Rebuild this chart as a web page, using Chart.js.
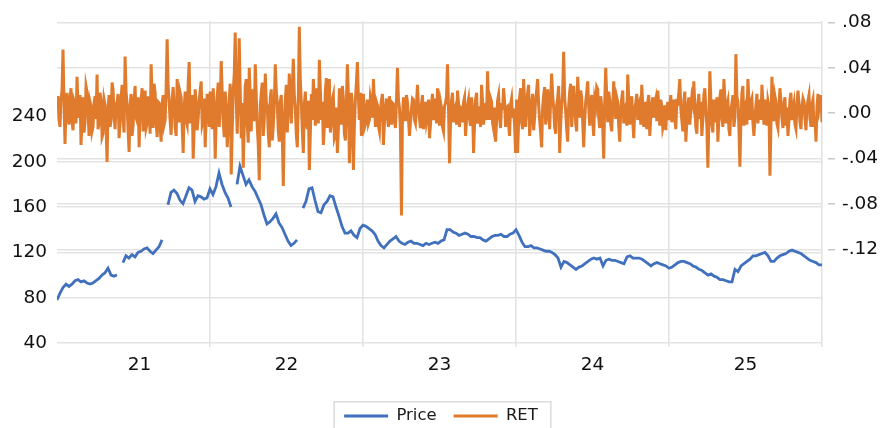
<!DOCTYPE html>
<html>
<head>
<meta charset="utf-8">
<title>Price and RET</title>
<script src="https://cdn.jsdelivr.net/npm/chart.js@4/dist/chart.umd.min.js"></script>
<style>
  html, body { margin: 0; padding: 0; background: #ffffff; }
  #wrap { width: 882px; height: 428px; position: relative; overflow: hidden; }
</style>
</head>
<body>
<div id="wrap"><canvas id="c" width="882" height="428"></canvas></div>
<script>
// Time span covered by both series (evenly spaced observations)
const startYear = 2021;
const endYear = 2026;

// Year labels on the bottom axis
const yearLabels = ['21', '22', '23', '24', '25'];

// Tick labels
const priceTicks = [40, 80, 120, 160, 200, 240];
const retTicks = [-0.12, -0.08, -0.04, 0.00, 0.04, 0.08];

// Price level (left axis); null = missing observation
const priceValues = [
  78, 84, 89, 92, 90, 92, 95, 96, 94, 95,
  93, 92, 93, 95, 97, 100, 102, 106, 100, 99,
  100, null, 111, 117, 115, 118, 116, 120, 121, 123,
  124, 121, 119, 122, 125, 131, null, 162, 173, 175,
  172, 166, 163, 170, 177, 175, 165, 170, 169, 167,
  168, 176, 171, 178, 190, 180, 173, 168, 160, null,
  180, 196, 188, 180, 184, 178, 174, 168, 162, 153,
  145, 147, 150, 154, 146, 142, 136, 130, 126, 128,
  131, null, 159, 165, 176, 177, 166, 156, 155, 162,
  165, 170, 169, 160, 152, 143, 137, 137, 139, 135,
  133, 141, 144, 143, 141, 139, 136, 130, 126, 124,
  127, 130, 132, 134, 130, 128, 127, 129, 130, 128,
  128, 127, 126, 128, 127, 128, 129, 128, 130, 131,
  140, 140, 138, 137, 135, 136, 137, 136, 134, 134,
  133, 133, 131, 130, 132, 134, 135, 135, 136, 134,
  134, 136, 137, 140, 135, 129, 125, 125, 126, 124,
  124, 123, 122, 121, 121, 120, 118, 115, 107, 112,
  111, 109, 107, 105, 107, 108, 110, 112, 114, 115,
  114, 115, 108, 113, 114, 113, 113, 112, 111, 110,
  116, 117, 115, 115, 115, 114, 112, 110, 108, 110,
  111, 110, 109, 108, 106, 107, 109, 111, 112, 112,
  111, 110, 108, 107, 105, 104, 102, 100, 101, 99,
  98, 96, 96, 95, 94, 94, 105, 103, 108, 110,
  112, 114, 117, 117, 118, 119, 120, 117, 112, 112,
  115, 117, 118, 119, 121, 122, 121, 120, 119, 117,
  115, 113, 112, 111, 109, 109
];

// Returns (right axis)
const retValues = [
  // 2021
  0.004, 0.015, -0.006, -0.012, 0.012, 0.020, 0.056, 0.010, -0.027, 0.006,
  0.018, -0.004, -0.010, 0.013, 0.022, -0.007, -0.015, 0.011, 0.008, -0.009,
  0.032, 0.005, -0.004, 0.016, -0.028, -0.006, 0.014, -0.017, -0.008, 0.024,
  0.019, 0.003, -0.020, 0.010, 0.006, -0.016, -0.012, 0.009, 0.015, -0.005,
  0.034, -0.014, -0.009, 0.018, 0.011, -0.021, -0.018, 0.012, 0.007, -0.010,
  -0.043, 0.004, 0.016, -0.012, -0.006, 0.027, 0.021, -0.003, -0.014, 0.008,
  0.010, 0.017, -0.022, -0.008, 0.013, 0.025, -0.005, -0.017, 0.050, 0.019,
  0.008, -0.015, -0.034, 0.006, 0.017, -0.020, -0.011, 0.012, 0.024, -0.004,
  -0.007, 0.014, -0.030, 0.003, 0.012, 0.022, -0.016, 0.007, 0.020, -0.013,
  -0.009, 0.015, 0.005, -0.018, 0.043, 0.012, -0.013, 0.026, 0.018, -0.008,
  -0.021, 0.010, 0.009, -0.014, -0.025, 0.008, 0.016, -0.010, -0.006, 0.022,
  0.065, 0.024, 0.010, -0.007, -0.019, 0.012, 0.023, 0.006, -0.012, -0.020,
  0.030, 0.011, -0.008, 0.018, 0.014, -0.011, -0.035, 0.004, 0.019, -0.006,
  -0.010, 0.026, 0.045, -0.009, 0.004, 0.016, -0.040, -0.012, 0.021, 0.008,
  -0.015, -0.004, 0.011, 0.020, 0.028, -0.010, -0.006, 0.013, -0.030, -0.002,
  0.017, 0.006, -0.012, 0.019,
  // 2022
  0.008, -0.014, 0.022, 0.005, -0.040, -0.006, 0.015, 0.027, -0.012, 0.009,
  0.046, 0.017, -0.008, -0.021, 0.019, 0.004, -0.030, -0.011, 0.012, 0.026,
  -0.054, -0.015, 0.020, 0.034, 0.071, 0.012, -0.018, 0.023, 0.066, 0.018,
  -0.022, 0.009, -0.048, -0.010, 0.024, 0.030, -0.010, -0.026, 0.040, 0.013,
  -0.016, 0.021, 0.011, -0.007, 0.043, 0.015, -0.012, -0.028, -0.059, 0.006,
  0.018, 0.027, -0.020, -0.005, 0.035, 0.010, 0.006, -0.018, -0.030, 0.014,
  0.021, -0.024, -0.011, 0.008, 0.043, 0.020, 0.009, -0.016, -0.025, 0.010,
  0.016, -0.020, -0.064, -0.009, 0.012, 0.025, -0.017, 0.006, 0.035, 0.014,
  -0.009, 0.022, 0.048, 0.016, 0.004, -0.019, -0.030, 0.012, 0.076, 0.028,
  0.010, -0.016, -0.035, 0.007, 0.019, -0.008, -0.014, 0.011, -0.050, -0.018,
  0.017, -0.006, 0.030, 0.013, -0.011, 0.022, 0.014, -0.009, 0.047, 0.021,
  -0.006, 0.010, -0.028, -0.012, 0.020, 0.031, -0.013, 0.008, 0.030, -0.017,
  -0.008, 0.012, 0.016, -0.022, -0.019, 0.005, -0.035, -0.014, 0.022, 0.011,
  -0.010, 0.024, 0.013, -0.018, -0.024, 0.009, 0.043, 0.016, -0.044, -0.020,
  0.018, 0.006, -0.050, -0.011, 0.012, 0.027, 0.045, 0.014, -0.006, 0.018,
  -0.020, -0.007, 0.017, -0.013,
  // 2023
  -0.010, 0.006, 0.012, -0.009, -0.006, 0.014, 0.009, -0.004, 0.030, 0.008,
  -0.012, 0.010, 0.007, -0.011, -0.016, 0.004, 0.011, 0.017, -0.028, -0.008,
  0.006, 0.013, -0.004, -0.012, 0.015, 0.003, -0.010, 0.009, 0.008, -0.007,
  -0.013, 0.011, 0.040, 0.012, 0.005, -0.015, -0.090, -0.004, 0.014, 0.006,
  -0.007, 0.016, 0.010, -0.005, -0.020, -0.008, 0.004, 0.013, 0.012, -0.006,
  -0.009, 0.008, 0.025, 0.006, -0.005, -0.013, 0.008, 0.016, -0.014, 0.003,
  0.010, -0.008, -0.003, 0.012, -0.022, -0.010, 0.009, 0.017, -0.006, 0.004,
  0.013, -0.009, 0.022, 0.007, -0.011, 0.010, 0.005, -0.012, -0.016, 0.006,
  0.009, 0.015, 0.043, 0.004, -0.044, -0.009, 0.011, 0.018, -0.008, 0.003,
  0.006, -0.010, 0.020, 0.009, -0.012, 0.005, 0.004, -0.008, 0.010, 0.014,
  -0.020, -0.006, 0.007, 0.012, -0.005, -0.011, 0.014, 0.004, -0.035, -0.010,
  0.012, 0.018, -0.009, -0.003, 0.006, -0.012, 0.025, 0.010, -0.010, 0.007,
  0.008, -0.006, 0.037, 0.011, -0.006, 0.013, 0.010, -0.009, -0.014, 0.005,
  -0.025, -0.007, 0.011, 0.016, -0.004, -0.013, 0.009, 0.003, 0.022, 0.010,
  -0.012, 0.005, 0.006, -0.010, -0.020, 0.008, 0.013, -0.004, 0.004, -0.011,
  -0.035, 0.012,
  // 2024
  -0.035, -0.008, 0.014, 0.022, -0.008, -0.014, 0.030, 0.011, -0.012, 0.006,
  0.018, 0.025, -0.020, -0.007, 0.009, 0.017, -0.015, -0.004, 0.012, 0.020,
  0.030, 0.008, -0.006, -0.017, -0.030, 0.005, 0.016, 0.023, -0.010, -0.003,
  0.021, 0.009, -0.014, 0.012, 0.035, 0.016, 0.005, -0.012, -0.018, 0.007,
  0.013, 0.024, -0.035, -0.010, 0.008, 0.019, 0.054, 0.013, 0.002, -0.014,
  -0.025, 0.006, 0.019, 0.026, -0.012, 0.004, 0.024, 0.012, -0.009, -0.016,
  0.032, 0.014, -0.004, 0.020, 0.014, -0.008, -0.030, -0.006, 0.010, 0.018,
  0.028, 0.006, -0.011, 0.009, 0.016, -0.007, -0.020, 0.012, 0.007, 0.023,
  0.021, -0.004, -0.013, 0.015, 0.006, -0.012, -0.040, 0.010, 0.040, 0.016,
  -0.008, 0.019, 0.012, -0.010, -0.016, 0.006, 0.028, 0.009, -0.005, 0.014,
  0.010, -0.012, -0.025, 0.004, 0.013, 0.020, -0.009, 0.005, 0.007, -0.011,
  0.034, 0.012, -0.010, 0.006, 0.015, -0.007, -0.022, 0.004, 0.009, 0.017,
  -0.006, 0.008, 0.011, -0.010, 0.025, 0.006, -0.012, 0.010, 0.004, -0.014,
  0.010, 0.016, -0.020, -0.004, 0.008, 0.014, -0.004, 0.009, 0.013, -0.007,
  0.020, 0.006, -0.011, 0.012, 0.006, -0.013, -0.009, 0.007, -0.015, 0.003,
  0.010, -0.006, 0.005, 0.016,
  // 2025
  -0.008, 0.006, 0.012, -0.005, -0.014, 0.010, 0.009, 0.018, 0.030, 0.004,
  -0.006, -0.016, 0.011, 0.019, -0.025, -0.008, 0.007, 0.014, -0.010, 0.003,
  0.014, 0.009, 0.028, 0.006, -0.012, -0.018, 0.008, 0.017, -0.005, 0.010,
  -0.020, -0.006, 0.016, 0.022, 0.003, -0.011, -0.048, -0.009, 0.037, 0.012,
  -0.010, -0.017, 0.012, 0.005, -0.008, 0.014, -0.025, -0.006, 0.014, 0.021,
  -0.004, -0.012, 0.030, 0.013, -0.009, 0.007, 0.011, -0.014, -0.020, 0.004,
  0.008, 0.016, -0.012, -0.004, 0.052, 0.015, 0.010, -0.012, -0.047, -0.006,
  0.018, 0.024, -0.011, 0.006, 0.009, -0.010, 0.030, 0.012, -0.006, 0.010,
  0.013, -0.008, -0.020, -0.005, 0.007, 0.017, -0.009, 0.004, 0.012, -0.006,
  0.025, 0.010, -0.010, 0.012, 0.005, -0.011, 0.011, 0.006, -0.055, -0.012,
  0.032, 0.008, -0.007, 0.015, 0.010, -0.009, -0.013, 0.006, 0.022, 0.011,
  -0.004, -0.013, 0.008, 0.014, -0.011, 0.005, -0.020, -0.006, 0.012, 0.018,
  -0.006, 0.004, 0.009, -0.010, -0.014, 0.007, 0.020, 0.009, -0.008, -0.014,
  0.006, 0.013, 0.010, -0.004, -0.015, 0.006, 0.011, 0.016, -0.005, -0.012,
  0.008, 0.012, -0.012, -0.004, -0.025, 0.006, 0.017, 0.004, 0.010, 0.016,
  -0.008
];

// Place evenly spaced observations on the time axis
function toPoints(values) {
  const span = endYear - startYear;
  return values.map((v, i) => ({ x: startYear + span * i / (values.length - 1), y: v }));
}

const FONT = 'DejaVu Sans';
const GRID = '#e3e3e3';
const BLUE = '#4170bd';
const ORANGE = '#e07b2e';

// Year label positions (centre of each year) and year boundaries for the grid
const yearCentres = yearLabels.map((_, i) => startYear + i + (i === 0 ? 0.54 : 0.5));
const yearBounds = [];
for (let y = startYear + 1; y <= endYear; y++) yearBounds.push(y);

// Frame drawn around the legend entries
const legendFrame = {
  id: 'legendFrame',
  afterDraw(chart) {
    const lg = chart.legend;
    if (!lg || !lg.legendHitBoxes || !lg.legendHitBoxes.length) return;
    const boxes = lg.legendHitBoxes;
    const first = boxes[0];
    const last = boxes[boxes.length - 1];
    const ctx = chart.ctx;
    ctx.save();
    ctx.strokeStyle = '#dcdcdc';
    ctx.lineWidth = 1.5;
    const x0 = first.left - 10;
    const x1 = last.left + last.width + 13;
    const y0 = first.top - 6;
    ctx.strokeRect(x0, y0, x1 - x0, 60);
    ctx.restore();
  }
};

new Chart(document.getElementById('c'), {
  type: 'line',
  data: {
    datasets: [
      {
        label: 'Price',
        data: toPoints(priceValues),
        yAxisID: 'yPrice',
        borderColor: BLUE,
        backgroundColor: BLUE,
        borderWidth: 2.8,
        pointRadius: 0,
        tension: 0,
        spanGaps: false
      },
      {
        label: 'RET',
        data: toPoints(retValues),
        yAxisID: 'yRet',
        borderColor: ORANGE,
        backgroundColor: ORANGE,
        borderWidth: 3,
        pointRadius: 0,
        tension: 0
      }
    ]
  },
  options: {
    responsive: false,
    animation: false,
    devicePixelRatio: 1,
    layout: { padding: { top: 17, left: 0, right: 0, bottom: 0 } },
    plugins: {
      title: { display: false },
      tooltip: { enabled: false },
      legend: {
        display: true,
        position: 'bottom',
        maxHeight: 37.25,
        labels: {
          usePointStyle: true,
          pointStyle: 'line',
          pointStyleWidth: 44,
          padding: 17,
          color: '#1a1a1a',
          font: { family: FONT, size: 16.5 }
        }
      }
    },
    scales: {
      x: {
        type: 'linear',
        min: startYear,
        max: endYear,
        afterBuildTicks(scale) {
          const vals = yearBounds.concat(yearCentres).sort((a, b) => a - b);
          scale.ticks = vals.map(v => ({ value: v }));
        },
        afterFit(scale) { scale.height = 43.75; },
        border: { display: false },
        grid: {
          drawTicks: false,
          lineWidth: 1.6,
          color: ctx => (ctx.tick && Number.isInteger(ctx.tick.value)) ? GRID : 'rgba(0,0,0,0)'
        },
        ticks: {
          autoSkip: false,
          maxRotation: 0,
          padding: 7,
          color: '#111111',
          font: { family: FONT, size: 18.5 },
          callback(value) {
            if (Number.isInteger(value)) return '';
            const idx = Math.floor(value) - startYear;
            return yearLabels[idx] || '';
          }
        }
      },
      yPrice: {
        type: 'linear',
        position: 'left',
        min: 36.5,
        max: 324.1,
        afterBuildTicks(scale) { scale.ticks = priceTicks.map(v => ({ value: v })); },
        afterFit(scale) { scale.width = 57; },
        border: { display: false },
        grid: { drawTicks: false, color: GRID, lineWidth: 1.6 },
        ticks: {
          padding: 10,
          color: '#111111',
          font: { family: FONT, size: 18.5 },
          callback: v => String(v)
        }
      },
      yRet: {
        type: 'linear',
        position: 'right',
        min: -0.2058,
        max: 0.0811,
        afterBuildTicks(scale) { scale.ticks = retTicks.map(v => ({ value: v })); },
        afterFit(scale) { scale.width = 60; },
        border: { display: false },
        grid: {
          drawTicks: true,
          tickLength: 13,
          tickBorderDash: [0, 6, 7, 30],
          tickColor: '#c8c8c8',
          tickWidth: 1.5,
          color: GRID,
          lineWidth: 1.6
        },
        ticks: {
          padding: 7,
          color: '#111111',
          font: { family: FONT, size: 18.5 },
          callback(v) {
            const s = Math.abs(v) < 1e-9 ? '0.00' : v.toFixed(2);
            return s.replace('0.', '.');
          }
        }
      }
    }
  },
  plugins: [legendFrame]
});
</script>
</body>
</html>
